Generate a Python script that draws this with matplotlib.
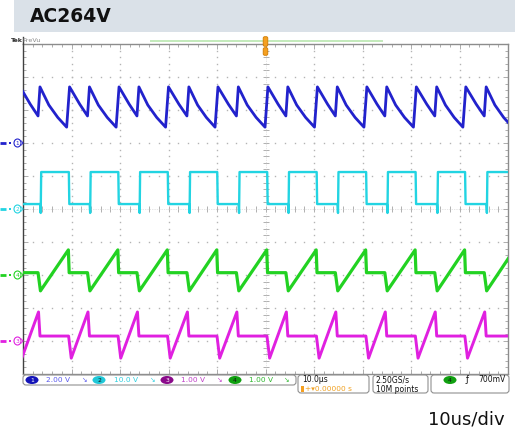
import matplotlib
matplotlib.use('Agg')
import matplotlib.pyplot as plt
from matplotlib.patches import FancyBboxPatch, Rectangle, Ellipse
import numpy as np

W, H, DPI = 515, 434, 100

# ---------------- data ----------------
title = "AC264V"
footer = "10us/div"
# switching edges of channel 2 (time in microseconds, screen 0..100 us)
rise_us = [-6.5, 3.7, 13.9, 24.1, 34.4, 44.6, 54.8, 65.0, 75.2, 85.5, 95.7]
fall_us = [-0.7, 9.5, 19.7, 29.9, 40.1, 50.4, 60.6, 70.8, 81.0, 91.2, 101.4]

ch_labels = ["1", "2", "3", "4"]
ch_scale_txt = ["2.00 V", "10.0 V", "1.00 V", "1.00 V"]
ch_volts_per_div = [2.0, 10.0, 1.0, 1.0]
ch_ground_div = [7.0, 5.0, 1.0, 3.0]

# ch1 (blue) levels in volts: peak, long-descent 1/3, long 2/3, deep bottom, short-mid, shallow bottom
ch1_levels_v = [3.40, 2.30, 1.55, 0.96, 2.35, 1.64]
# ch2 (cyan) levels in volts: high, low, undershoot spike
ch2_levels_v = [11.2, 1.5, -1.2]
# ch3 (magenta) levels in volts: flat, trough, peak
ch3_levels_v = [0.15, -0.52, 0.88]
# ch4 (green) levels in volts: flat, trough, top
ch4_levels_v = [0.07, -0.48, 0.76]

time_per_div = "10.0\u00b5s"
sample_rate = "2.50GS/s"
rec_len = "10M points"
trig_level = "700mV"

colors = {"1": "#2222cc", "2": "#22d4e2", "3": "#e020e0", "4": "#22d222"}
oval_colors = {"1": "#1414b8", "2": "#20c8d8", "3": "#8a0a8a", "4": "#10a010"}
txt_colors = {"1": "#5a5aee", "2": "#30d0e0", "3": "#c040c8", "4": "#30b830"}


def to_div(ch_idx, v):
    return ch_ground_div[ch_idx] + v / ch_volts_per_div[ch_idx]


# ---------------- build traces from edge lists ----------------
def trace_ch1():
    pk, l1, l2, dp, sm, sh = ch1_levels_v
    t, v = [], []
    n = len(rise_us)
    for i in range(n):
        r, f = rise_us[i], fall_us[i]
        a = r - 0.2
        b = f - 0.5
        t += [a, a + (b - a) / 3, a + 2 * (b - a) / 3, b, f + 0.1]
        v += [pk, l1, l2, dp, pk]
        if i + 1 < n:
            rn = rise_us[i + 1]
            t += [(f + rn) / 2, rn - 0.6]
            v += [sm, sh]
    return np.array(t), to_div(0, np.array(v))


def trace_ch2():
    hi, lo, sp = ch2_levels_v
    t, v = [], []
    for r, f in zip(rise_us, fall_us):
        t += [r - 0.15, r - 0.05, r + 0.05, f - 0.05, f + 0.05]
        v += [lo, sp, hi, hi, lo]
    return np.array(t), to_div(1, np.array(v))


def trace_ch3():
    fl, tr, pk = ch3_levels_v
    t, v = [rise_us[0]], [fl]
    n = len(rise_us)
    for i in range(n):
        f = fall_us[i]
        t += [f - 0.1, f + 0.45]
        v += [fl, tr]
        if i + 1 < n:
            rn = rise_us[i + 1]
            t += [rn - 0.5, rn - 0.2]
            v += [pk, fl]
    return np.array(t), to_div(2, np.array(v))


def trace_ch4():
    fl, tr, tp = ch4_levels_v
    t, v = [], []
    for r, f in zip(rise_us, fall_us):
        t += [r - 0.6, r - 0.1, f - 0.15, f + 0.02]
        v += [fl, tr, tp, fl]
    return np.array(t), to_div(3, np.array(v))


# ---------------- figure ----------------
fig = plt.figure(figsize=(W / DPI, H / DPI), dpi=DPI)
fig.patch.set_facecolor("white")

L, R, T, B = 23, 508, 44, 374
ax = fig.add_axes([L / W, (H - B) / H, (R - L) / W, (B - T) / H])
ax.set_xlim(0, 100)
ax.set_ylim(0, 10)
ax.set_facecolor("white")

# graticule dots
gx, gy = [], []
for xv in range(10, 100, 10):
    if xv == 50:
        continue
    for yv in np.arange(0, 10.01, 0.2):
        gx.append(xv); gy.append(yv)
for yv in range(1, 10):
    if yv == 5:
        continue
    for xv in np.arange(0, 100.01, 2):
        gx.append(xv); gy.append(yv)
ax.plot(gx, gy, ls="none", marker="s", ms=1.0, mew=0, color="#b4b4b4", zorder=1)
# centre cross
cy = np.arange(0, 10.01, 0.2)
ax.plot([50] * len(cy), cy, ls="none", marker="_", ms=4, mew=0.7, color="#b0b0b0", zorder=1)
ax.plot([50, 50], [0, 10], ls=(0, (1, 1.5)), lw=0.5, color="#cccccc", zorder=1)
cx = np.arange(0, 100.01, 2)
ax.plot(cx, [5] * len(cx), ls="none", marker="|", ms=4, mew=0.7, color="#b0b0b0", zorder=1)
ax.plot([0, 100], [5, 5], ls=(0, (1, 1.5)), lw=0.5, color="#cccccc", zorder=1)

ax.set_xticks(np.arange(0, 101, 10))
ax.set_xticks(np.arange(0, 101, 2), minor=True)
ax.set_yticks(np.arange(0, 11, 1))
ax.set_yticks(np.arange(0, 10.01, 0.2), minor=True)
ax.tick_params(which="both", direction="in", top=True, right=True,
               labelbottom=False, labelleft=False, color="#a0a0a0", width=0.6)
ax.tick_params(which="major", length=3.5)
ax.tick_params(which="minor", length=2.5)
for s in ["top", "right", "bottom"]:
    ax.spines[s].set_color("#8c8c8c")
    ax.spines[s].set_linewidth(1.0)
ax.spines["left"].set_color("#404040")
ax.spines["left"].set_linewidth(1.0)

# traces
t1, v1 = trace_ch1()
t2, v2 = trace_ch2()
t3, v3 = trace_ch3()
t4, v4 = trace_ch4()
ax.plot(t1, v1, color=colors["1"], lw=2.0, zorder=3, solid_joinstyle="round")
ax.plot(t2, v2, color=colors["2"], lw=1.7, zorder=3)
ax.plot(t4, v4, color=colors["4"], lw=2.3, zorder=3, solid_joinstyle="round")
ax.plot(t3, v3, color=colors["3"], lw=2.1, zorder=3, solid_joinstyle="round")

# ---------------- overlay in pixel coordinates ----------------
ov = fig.add_axes([0, 0, 1, 1], zorder=10)
ov.set_xlim(0, W)
ov.set_ylim(H, 0)
ov.axis("off")
ov.patch.set_alpha(0)

# title bar
ov.add_patch(Rectangle((14, 0), W - 14, 32, facecolor="#dae1e8", edgecolor="none"))
ov.text(30, 17, title, fontsize=13.5, fontweight="bold", color="#111111",
        ha="left", va="center", family="DejaVu Sans")

# Tek PreVu and record bar
ov.text(11, 40.5, "Tek", fontsize=4.6, fontweight="bold", color="#333333", va="center")
ov.text(22, 40.5, "PreVu", fontsize=4.6, color="#8a8a8a", va="center")
ov.plot([23, 23], [37, 44], color="#404040", lw=1.0)
ov.add_patch(Rectangle((150, 40), 233, 2.2, facecolor="#c4eabc", edgecolor="none"))
# trigger position marker
ov.add_patch(FancyBboxPatch((263.5, 37), 4, 9, boxstyle="round,pad=0.3,rounding_size=1.5",
                            facecolor="#f5a020", edgecolor="#d07a00", lw=0.6))
ov.add_patch(FancyBboxPatch((263.5, 48), 4, 7, boxstyle="round,pad=0.3,rounding_size=1.5",
                            facecolor="#f5a020", edgecolor="#d07a00", lw=0.6))

# channel ground markers on the left
for i, lab in enumerate(ch_labels):
    yd = ch_ground_div[i]
    yp = B - yd * (B - T) / 10.0
    c = colors[lab]
    ov.plot([0, 6], [yp, yp], color=c, lw=2.0, solid_capstyle="butt")
    ov.plot([9.5], [yp], marker="s", ms=1.6, mew=0, color=c)
    ov.add_patch(Ellipse((17.5, yp), 7, 8, facecolor="white", edgecolor=c, lw=0.8))
    ov.text(17.5, yp + 0.3, lab, fontsize=4.2, color=c, ha="center", va="center")
    ov.plot([21.5, 23], [yp - 2, yp], color=c, lw=0.6)
    ov.plot([21.5, 23], [yp + 2, yp], color=c, lw=0.6)

# bottom readout bar
ov.add_patch(FancyBboxPatch((23, 375), 273, 10, boxstyle="round,pad=0,rounding_size=3",
                            facecolor="white", edgecolor="#909090", lw=0.8))
oval_x = [32, 99, 167, 235]
txt_x = [46, 114, 181, 249]
sym_x = [84, 152, 219, 286]
for i, lab in enumerate(ch_labels):
    ov.add_patch(Ellipse((oval_x[i], 380), 13, 8, facecolor=oval_colors[lab], edgecolor="none"))
    ov.text(oval_x[i], 380.3, lab, fontsize=4.3, color="#111111" if lab in "24" else "white",
            ha="center", va="center")
    ov.text(txt_x[i], 380.3, ch_scale_txt[i], fontsize=5.3, color=txt_colors[lab],
            ha="left", va="center")
    ov.text(sym_x[i], 380.3, "\u2198", fontsize=4.8, color=txt_colors[lab],
            ha="center", va="center")

ov.add_patch(FancyBboxPatch((298, 375), 71, 18, boxstyle="round,pad=0,rounding_size=3",
                            facecolor="white", edgecolor="#909090", lw=0.8))
ov.text(302, 380, time_per_div, fontsize=5.5, color="#111111", ha="left", va="center")
ov.add_patch(Rectangle((300.5, 386), 3.5, 6, facecolor="#f5a020", edgecolor="none"))
ov.text(305, 389, "+\u25be0.00000 s", fontsize=5.3, color="#f0a020", ha="left", va="center")

ov.add_patch(FancyBboxPatch((373, 375), 55, 18, boxstyle="round,pad=0,rounding_size=3",
                            facecolor="white", edgecolor="#909090", lw=0.8))
ov.text(376, 380, sample_rate, fontsize=5.5, color="#111111", ha="left", va="center")
ov.text(376, 389, rec_len, fontsize=5.5, color="#111111", ha="left", va="center")

ov.add_patch(FancyBboxPatch((431, 375), 78, 18, boxstyle="round,pad=0,rounding_size=3",
                            facecolor="white", edgecolor="#909090", lw=0.8))
ov.add_patch(Ellipse((450, 380), 13, 8, facecolor=oval_colors["4"], edgecolor="none"))
ov.text(450, 380.3, "4", fontsize=4.3, color="#111111", ha="center", va="center")
ov.text(467, 380, "\u0192", fontsize=6, color="#111111", ha="center", va="center")
ov.text(478, 380, trig_level, fontsize=5.5, color="#111111", ha="left", va="center")

# footer
ov.text(505, 420, footer, fontsize=13, color="#111111", ha="right", va="center")

fig.savefig("out.png", dpi=DPI, facecolor="white")
